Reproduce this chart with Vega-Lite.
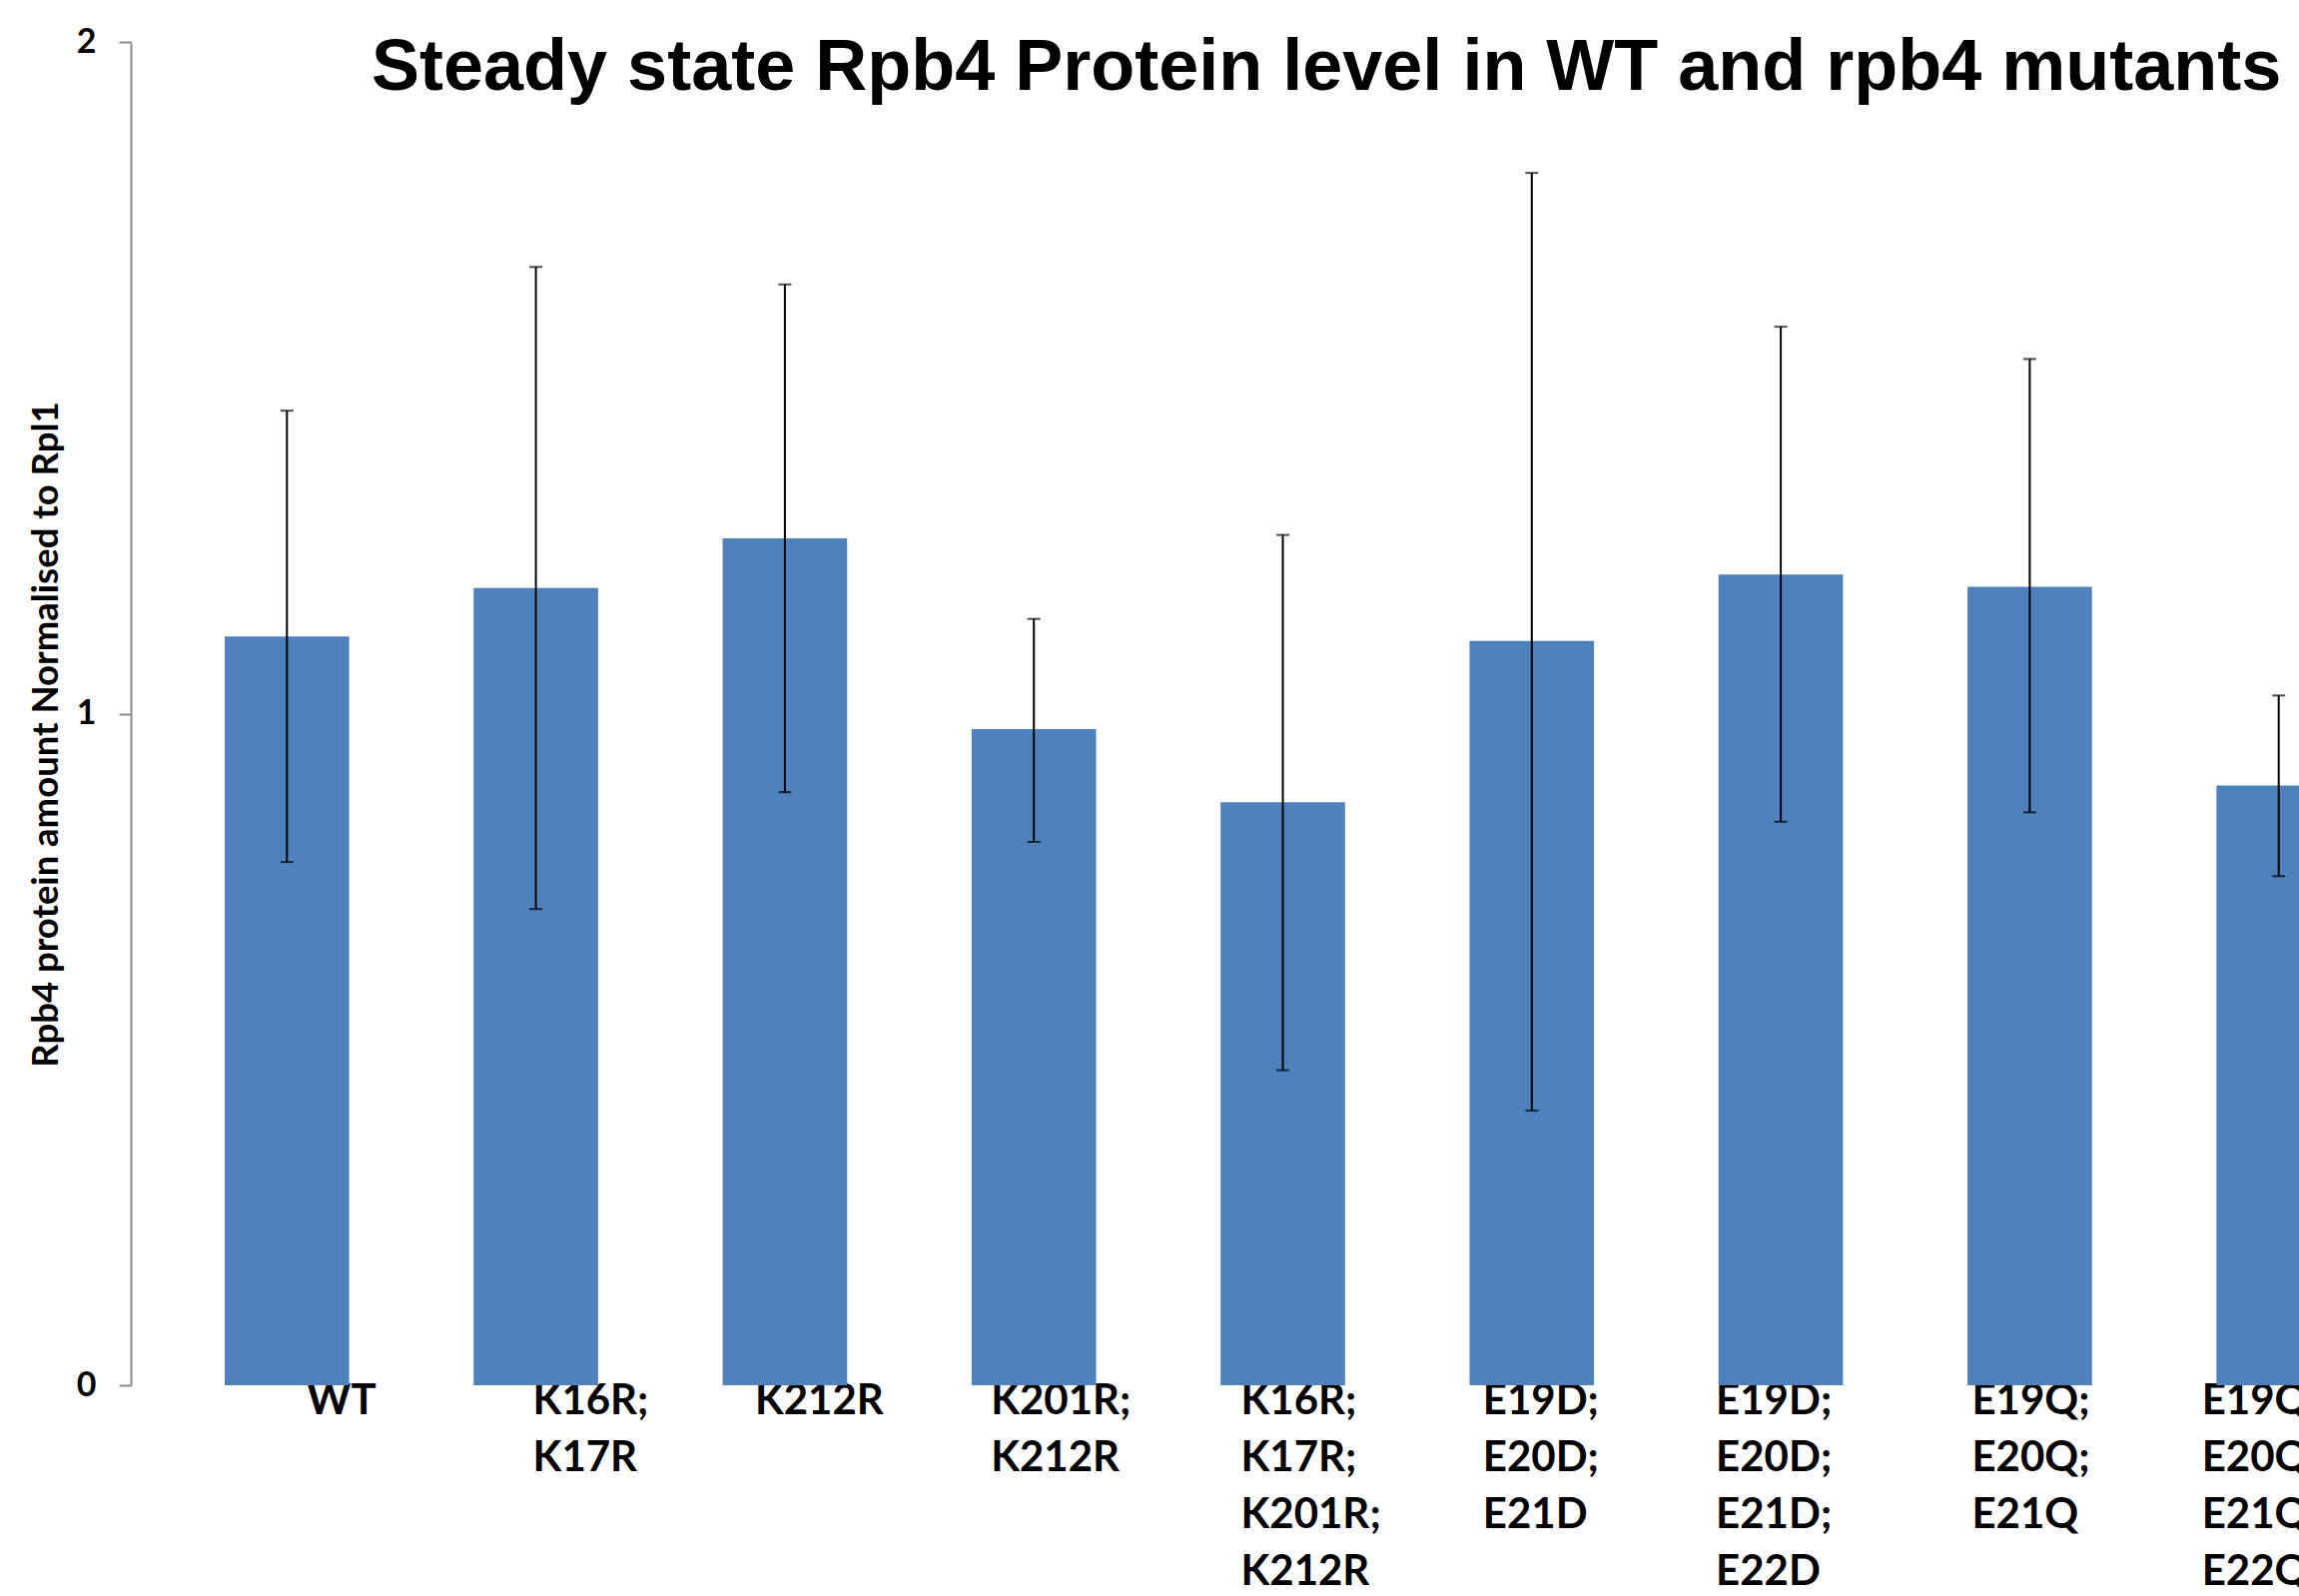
{
  "$schema": "https://vega.github.io/schema/vega-lite/v6.json",
  "width": 2171,
  "height": 1345,
  "autosize": {"type": "none"},
  "padding": {"left": 131, "top": 42, "right": 0, "bottom": 211},
  "background": "white",
  "config": {"view": {"stroke": null}},
  "title": {
    "text": "Steady state Rpb4 Protein level in WT and rpb4 mutants",
    "font": "Liberation Sans",
    "fontSize": 72,
    "fontWeight": "bold",
    "color": "black",
    "anchor": "start",
    "frame": "group",
    "baseline": "top",
    "offset": 8,
    "dx": 241,
    "dy": 88
  },
  "data": {
    "values": [
      {"strain": "WT", "mean": 1.115, "lo": 0.779, "hi": 1.451},
      {"strain": "K16R; K17R", "mean": 1.187, "lo": 0.709, "hi": 1.665},
      {"strain": "K212R", "mean": 1.261, "lo": 0.883, "hi": 1.639},
      {"strain": "K201R; K212R", "mean": 0.977, "lo": 0.809, "hi": 1.141},
      {"strain": "K16R; K17R; K201R; K212R", "mean": 0.868, "lo": 0.469, "hi": 1.266},
      {"strain": "E19D; E20D; E21D", "mean": 1.108, "lo": 0.409, "hi": 1.805},
      {"strain": "E19D; E20D; E21D; E22D", "mean": 1.207, "lo": 0.839, "hi": 1.576},
      {"strain": "E19Q; E20Q; E21Q", "mean": 1.189, "lo": 0.853, "hi": 1.528},
      {"strain": "E19Q; E20Q; E21Q; E22Q", "mean": 0.893, "lo": 0.758, "hi": 1.027}
    ]
  },
  "encoding": {
    "x": {
      "field": "strain",
      "type": "nominal",
      "sort": null,
      "scale": {"range": [0, 2307], "paddingInner": 0.5, "paddingOuter": 0.377},
      "axis": {
        "title": null,
        "domain": false,
        "ticks": false,
        "tickSize": 0,
        "grid": false,
        "labelAngle": 0,
        "labelAlign": "left",
        "labelBaseline": "top",
        "labelPadding": -5,
        "labelFont": "Lato",
        "labelFontSize": 42,
        "labelFontWeight": "bold",
        "labelColor": "black",
        "labelLineHeight": 57,
        "labelOverlap": false,
        "labelLimit": 0,
        "labelExpr": "split(replace(datum.label, regexp('; ', 'g'), ';|'), '|')",
        "labelOffset": {
          "condition": [
            {"test": "datum.value === 'WT'", "value": 20},
            {"test": "datum.value === 'K16R; K17R'", "value": -3},
            {"test": "datum.value === 'K212R'", "value": -30},
            {"test": "datum.value === 'K201R; K212R'", "value": -43},
            {"test": "datum.value === 'K16R; K17R; K201R; K212R'", "value": -42},
            {"test": "datum.value === 'E19D; E20D; E21D'", "value": -49},
            {"test": "datum.value === 'E19D; E20D; E21D; E22D'", "value": -65},
            {"test": "datum.value === 'E19Q; E20Q; E21Q'", "value": -58},
            {"test": "datum.value === 'E19Q; E20Q; E21Q; E22Q'", "value": -77}
          ],
          "value": 0
        }
      }
    },
    "y": {
      "field": "mean",
      "type": "quantitative",
      "scale": {"domain": [0, 2], "nice": false},
      "axis": {
        "values": [0, 1, 2],
        "labelExpr": "toString(round(datum.value))",
        "grid": false,
        "labelOverlap": false,
        "labelFlush": false,
        "title": "Rpb4 protein amount Normalised to Rpl1",
        "titleFont": "Lato",
        "titleFontSize": 36.5,
        "titleFontWeight": "bold",
        "titleColor": "black",
        "titleX": -74,
        "titleY": 693,
        "titleBaseline": "alphabetic",
        "titleAngle": -90,
        "titleAlign": "center",
        "labelFont": "Lato",
        "labelFontSize": 34,
        "labelFontWeight": "bold",
        "labelColor": "black",
        "labelPadding": 23,
        "tickSize": 12,
        "tickColor": "#898989",
        "tickWidth": 2,
        "domainColor": "#898989",
        "domainWidth": 2
      }
    }
  },
  "layer": [
    {
      "mark": {"type": "bar", "color": "#4F81BD"}
    },
    {
      "mark": {"type": "rule", "color": "black", "strokeWidth": 2},
      "encoding": {
        "y": {"field": "lo", "type": "quantitative"},
        "y2": {"field": "hi"}
      }
    },
    {
      "mark": {"type": "tick", "color": "black", "size": 13, "thickness": 2},
      "encoding": {"y": {"field": "lo", "type": "quantitative"}}
    },
    {
      "mark": {"type": "tick", "color": "black", "size": 13, "thickness": 2},
      "encoding": {"y": {"field": "hi", "type": "quantitative"}}
    }
  ]
}
